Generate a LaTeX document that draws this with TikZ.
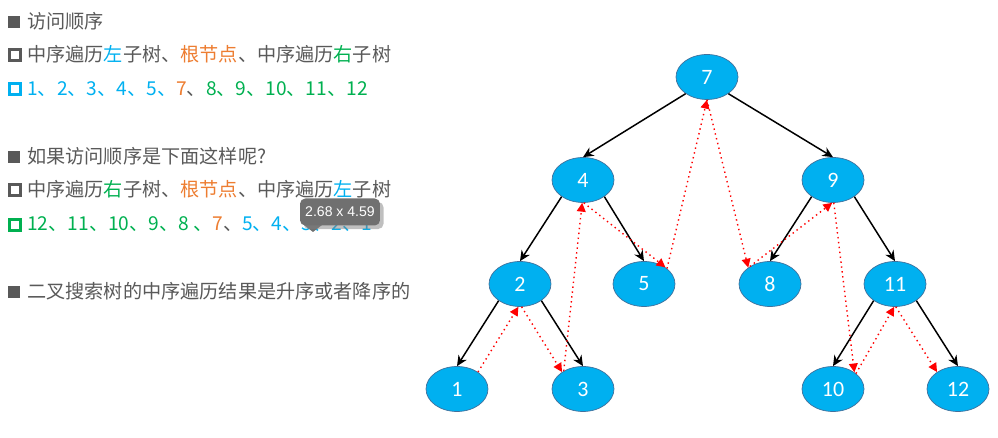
\documentclass[tikz,border=0pt]{standalone}
\usepackage{fontspec}
\setmainfont{Noto Sans CJK SC}
\newfontfamily\numfont{Carlito}
\newfontfamily\tipfont{Liberation Sans}
\definecolor{txtgray}{RGB}{89, 89, 89}
\definecolor{popblue}{RGB}{0, 176, 240}
\definecolor{poporange}{RGB}{237, 125, 49}
\definecolor{popgreen}{RGB}{0, 176, 80}
\definecolor{nodeline}{RGB}{65, 113, 156}
\definecolor{tipgray}{RGB}{112, 112, 112}
\usetikzlibrary{shapes.geometric, arrows.meta, shadows}
\newcommand{\bl}[1]{\textcolor{popblue}{#1}}
\newcommand{\og}[1]{\textcolor{poporange}{#1}}
\newcommand{\gn}[1]{\textcolor{popgreen}{#1}}

\begin{document}
\begin{tikzpicture}[
  x=0.02cm, y=-0.02cm,
  tree/.style={ellipse, draw=nodeline, line width=0.4pt, fill=popblue, minimum width=1.24cm, minimum height=0.9cm, inner sep=0pt, text=white, font=\numfont\fontsize{12.5}{14}\selectfont},
  edge/.style={-{Stealth[length=6pt, width=5.5pt]}, black, line width=0.85pt},
  visit/.style={-{Triangle[length=5pt, width=5pt]}, red, line width=0.8pt, dotted},
  line/.style={anchor=base west, inner sep=0pt, text=txtgray, font=\fontsize{10.9}{13}\selectfont},
  mainbullet/.style={fill=txtgray, inner sep=0pt, minimum size=0.23cm},
  subbullet/.style={draw=#1, line width=1.6pt, inner sep=0pt, minimum size=0.22cm},
]
  \useasboundingbox (0,0) rectangle (998,438);

  % text on the left
  \node[mainbullet] (b1) at (14,22) {};
  \node[line] (t1) at (27,29) {访问顺序};
  \node[subbullet=txtgray] (b2) at (15,55) {};
  \node[line] (t2) at (27,62) {中序遍历\bl{左}子树、\og{根节点}、中序遍历\gn{右}子树};
  \node[subbullet=popblue] (b3) at (15,89) {};
  \node[line] (t3) at (27,96) {\bl{1、2、3、4、5、}\og{7}、\gn{8、9、10、11、12}};

  \node[mainbullet] (b4) at (14,157) {};
  \node[line] (t4) at (27,164) {如果访问顺序是下面这样呢?};
  \node[subbullet=txtgray] (b5) at (15,190) {};
  \node[line] (t5) at (27,197) {中序遍历\gn{右}子树、\og{根节点}、中序遍历\bl{左}子树};
  \node[subbullet=popgreen] (b6) at (15,225) {};
  \node[line] (t6) at (27,231) {\gn{12、11、10、9、8 、}\og{7}、\bl{5、4、3、2、1}};

  \node[mainbullet] (b7) at (14,292) {};
  \node[line] (t7) at (27,299) {二叉搜索树的中序遍历结果是升序或者降序的};

  % size tip over the last list
  \fill[tipgray] (304,225) -- (313,232) -- (322,225) -- cycle;
  \node[fill=tipgray, rounded corners=3pt, minimum width=1.6cm, minimum height=0.54cm, inner sep=0pt, text=white, font=\tipfont\fontsize{8}{10}\selectfont, drop shadow={opacity=0.5, shadow xshift=2pt, shadow yshift=-2pt}] (tip) at (340,212) {2.68 x 4.59};

  % tree
  \node[tree] (n7) at (707,77) {7};
  \node[tree] (n4) at (583,180) {4};
  \node[tree] (n9) at (833,180) {9};
  \node[tree] (n2) at (520,284) {2};
  \node[tree] (n5) at (644,284) {5};
  \node[tree] (n8) at (770,284) {8};
  \node[tree] (n11) at (895,284) {11};
  \node[tree] (n1) at (457,389) {1};
  \node[tree] (n3) at (583,389) {3};
  \node[tree] (n10) at (833,389) {10};
  \node[tree] (n12) at (958,389) {12};

  \draw[edge] (n7.218) -- (n4.north);
  \draw[edge] (n7.322) -- (n9.north);
  \draw[edge] (n4.218) -- (n2.north);
  \draw[edge] (n4.322) -- (n5.north);
  \draw[edge] (n9.218) -- (n8.north);
  \draw[edge] (n9.322) -- (n11.north);
  \draw[edge] (n2.218) -- (n1.north);
  \draw[edge] (n2.322) -- (n3.north);
  \draw[edge] (n11.218) -- (n10.north);
  \draw[edge] (n11.322) -- (n12.north);

  % visiting order
  \draw[visit] (n1.39) -- (n2.-94);
  \draw[visit] (n2.-86) -- (n3.141);
  \draw[visit] (n3.137) -- (n4.-92);
  \draw[visit] (n4.-88) -- (n5.38);
  \draw[visit] (n5.34) -- (n7.south);
  \draw[visit] (n7.south) -- (n8.143);
  \draw[visit] (n8.139) -- (n9.-92);
  \draw[visit] (n9.-88) -- (n10.38);
  \draw[visit] (n10.34) -- (n11.-92);
  \draw[visit] (n11.-88) -- (n12.141);
\end{tikzpicture}
\end{document}
